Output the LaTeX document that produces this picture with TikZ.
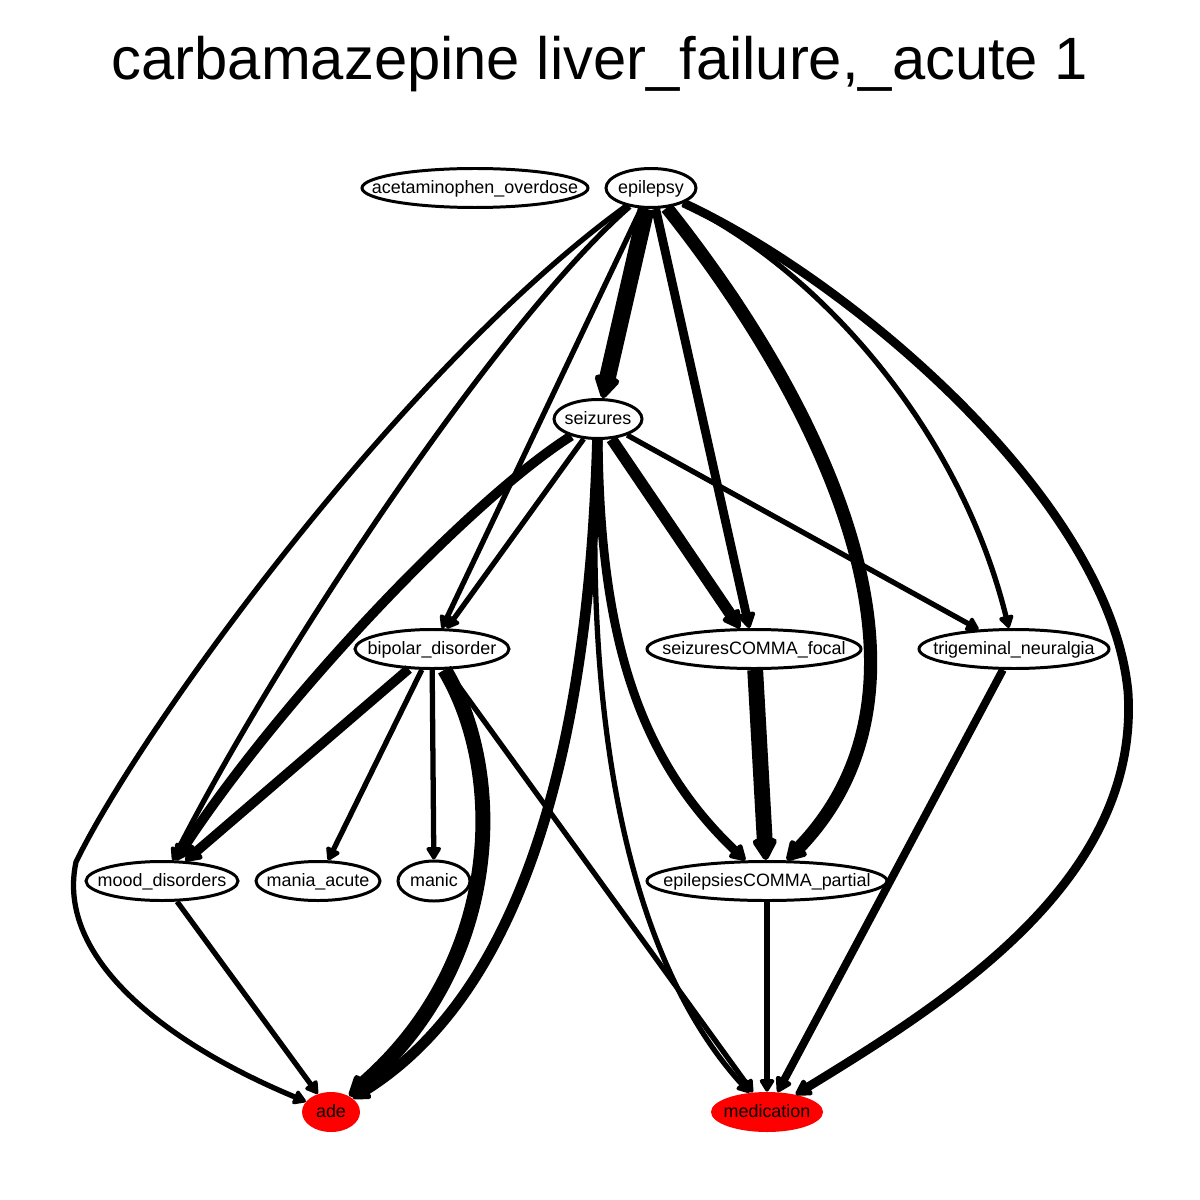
\documentclass[tikz,border=0pt]{standalone}
\usepackage{fontspec}
\setmainfont{Liberation Sans}
\usepackage{xcolor}
\usepackage{tikz}
\usetikzlibrary{arrows.meta, shapes.geometric}

\newcommand{\nm}[1]{\makebox[0pt]{#1}}

\begin{document}
\begin{tikzpicture}[
    x=0.2mm, y=-0.2mm,
    sym/.style={
      ellipse, draw, line width=1.7pt,
      inner sep=0pt, minimum height=7.8mm,
      font=\fontsize{10.2}{12}\selectfont,
      text height=1.6ex, text depth=.45ex
    },
    res/.style={
      ellipse, fill=red, inner sep=0pt,
      minimum height=8mm,
      font=\fontsize{10.2}{12}\selectfont,
      text height=1.6ex, text depth=.45ex
    },
    link/.style={-{Triangle[round, length=1.8mm 1, width=2.2mm 1]}, line width=#1},
    link/.default=3pt
  ]
    \useasboundingbox (0,0) rectangle (1200,1200);

    \node (title) at (600,64) {\fontsize{34}{40}\selectfont carbamazepine liver\_failure,\_acute 1};

    \node[sym, minimum width=45.2mm] (acet)       at (475,188)  {\nm{acetaminophen\_overdose}};
    \node[sym, minimum width=18mm]   (epilepsy)   at (651,188)  {\nm{epilepsy}};
    \node[sym, minimum width=17.6mm] (seizures)   at (598,419)  {\nm{seizures}};
    \node[sym, minimum width=30.8mm] (bipolar)    at (432,649)  {\nm{bipolar\_disorder}};
    \node[sym, minimum width=42.8mm] (focal)      at (754,649)  {\nm{seizuresCOMMA\_focal}};
    \node[sym, minimum width=38mm]   (trigeminal) at (1014,649) {\nm{trigeminal\_neuralgia}};
    \node[sym, minimum width=30.4mm] (mood)       at (162,881)  {\nm{mood\_disorders}};
    \node[sym, minimum width=24.8mm] (mania)      at (318,881)  {\nm{mania\_acute}};
    \node[sym, minimum width=14.4mm, minimum height=8mm] (manic) at (434,881) {\nm{manic}};
    \node[sym, minimum width=48mm]   (partial)    at (767,881)  {\nm{epilepsiesCOMMA\_partial}};
    \node[res, minimum width=11.6mm] (ade)        at (331,1112) {\nm{ade}};
    \node[res, minimum width=22.4mm] (medication) at (767,1112) {\nm{medication}};

    % from epilepsy
    \draw[link=9.5pt] (epilepsy) -- (seizures);
    \draw[link]       (epilepsy) .. controls (400,370) and (140,730) .. (76,862)
                                 .. controls (55,960) and (170,1045) .. (ade);
    \draw[link]       (epilepsy) .. controls (500,320) and (280,650) .. (mood);
    \draw[link]       (epilepsy) -- (bipolar);
    \draw[link=5pt]   (epilepsy) -- (focal);
    \draw[link=7.5pt] (epilepsy) .. controls (820,400) and (960,680) .. (partial);
    \draw[link]       (epilepsy) .. controls (820,270) and (960,430) .. (trigeminal);
    \draw[link=5pt]   (epilepsy) .. controls (850,280) and (1110,500) .. (1128,692)
                                 .. controls (1140,880) and (950,1000) .. (medication);

    % from seizures
    \draw[link]       (seizures) -- (bipolar);
    \draw[link=5.5pt] (seizures) .. controls (470,500) and (280,700) .. (mood);
    \draw[link=6pt]   (seizures) .. controls (590,700) and (540,980) .. (ade);
    \draw[link]       (seizures) .. controls (585,700) and (620,950) .. (medication);
    \draw[link=5pt]   (seizures) .. controls (600,640) and (640,760) .. (partial);
    \draw[link=6.5pt] (seizures) -- (focal);
    \draw[link]       (seizures) -- (trigeminal);

    % from bipolar_disorder
    \draw[link=5.5pt] (bipolar) -- (mood);
    \draw[link]       (bipolar) -- (mania);
    \draw[link]       (bipolar) -- (manic);
    \draw[link=8.5pt] (bipolar) .. controls (505,770) and (505,960) .. (ade);
    \draw[link]       (bipolar) -- (medication);

    % lower rows
    \draw[link=9pt]   (focal) -- (partial);
    \draw[link=4.5pt] (trigeminal) -- (medication);
    \draw[link]       (partial) -- (medication);
    \draw[link]       (mood) -- (ade);
  \end{tikzpicture}
\end{document}
